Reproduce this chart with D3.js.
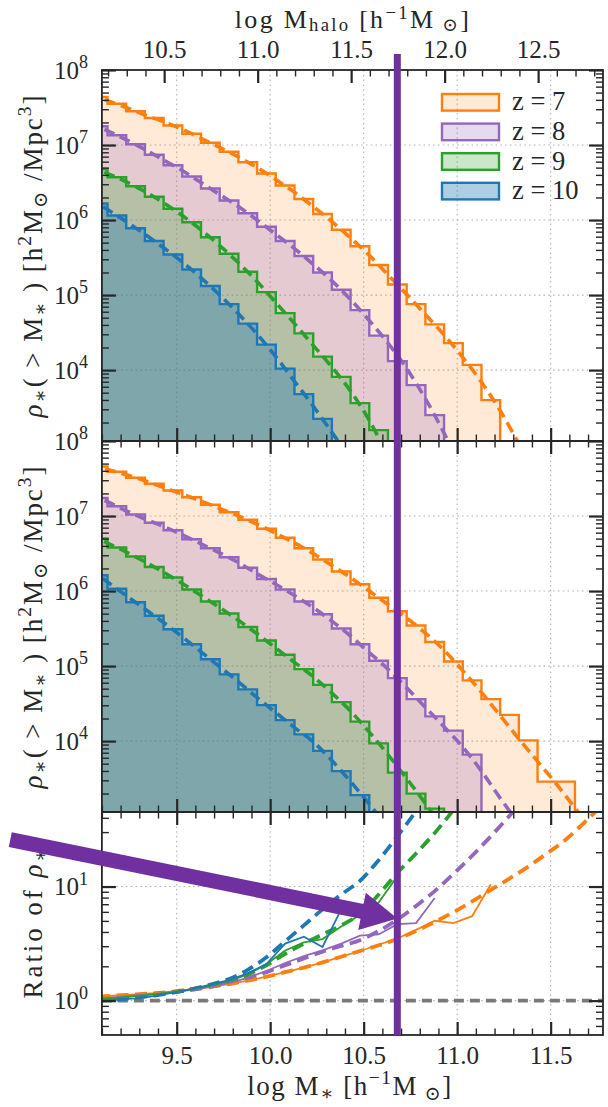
<!DOCTYPE html>
<html>
<head>
<meta charset="utf-8">
<script src="https://cdn.jsdelivr.net/npm/d3@7/dist/d3.min.js"></script>
<style>
  html, body { margin: 0; padding: 0; background: #fff; }
  svg text { font-family: "Liberation Serif", "DejaVu Serif", serif; fill: #262626; }
</style>
</head>
<body>
<svg id="chart" width="608" height="1107"></svg>
<script>
// ---------------- data ----------------
const redshiftLabels = ["z = 7", "z = 8", "z = 9", "z = 10"];

// bin centres in log M* (simulation steps and density ratios are given here)
const binCentres = [9.08, 9.18, 9.28, 9.38, 9.48, 9.58, 9.68, 9.78, 9.88, 9.98,
  10.08, 10.18, 10.28, 10.38, 10.48, 10.58, 10.68, 10.78, 10.88, 10.98,
  11.08, 11.18, 11.28, 11.38, 11.48, 11.58, 11.68, 11.78, 11.88];
// bin edges in log M* (model curves are given here)
const binEdges = [9.03, 9.13, 9.23, 9.33, 9.43, 9.53, 9.63, 9.73, 9.83, 9.93,
  10.03, 10.13, 10.23, 10.33, 10.43, 10.53, 10.63, 10.73, 10.83, 10.93,
  11.03, 11.13, 11.23, 11.33, 11.43, 11.53, 11.63, 11.73, 11.83];

// upper panel, log10 rho*(>M*): simulation (steps, at centres) and model (dashed, at edges)
const simUpperZ7 = [7.64, 7.55, 7.45, 7.36, 7.26, 7.15, 7.03, 6.91, 6.77, 6.62, 6.46, 6.28, 6.08, 5.87, 5.65, 5.40, 5.14, 4.88, 4.61, 4.36, 4.07, 3.60];
const fitUpperZ7 = [7.68, 7.59, 7.50, 7.40, 7.31, 7.21, 7.09, 6.97, 6.84, 6.70, 6.54, 6.37, 6.18, 5.98, 5.76, 5.53, 5.27, 5.01, 4.74, 4.47, 4.17, 3.84, 3.46, 3.02, 2.56];
const simUpperZ8 = [7.25, 7.13, 7.01, 6.87, 6.73, 6.58, 6.42, 6.26, 6.09, 5.91, 5.72, 5.52, 5.30, 5.07, 4.80, 4.46, 4.12, 3.80, 3.40];
const fitUpperZ8 = [7.30, 7.19, 7.07, 6.94, 6.80, 6.66, 6.50, 6.34, 6.18, 6.00, 5.81, 5.62, 5.41, 5.19, 4.94, 4.66, 4.36, 4.02, 3.62, 3.16, 2.65];
const simUpperZ9 = [6.68, 6.57, 6.45, 6.31, 6.15, 5.97, 5.77, 5.55, 5.31, 5.04, 4.76, 4.49, 4.18, 3.91, 3.56, 3.20];
const fitUpperZ9 = [6.73, 6.62, 6.51, 6.38, 6.23, 6.06, 5.87, 5.66, 5.43, 5.18, 4.90, 4.62, 4.33, 4.04, 3.72, 3.33, 2.85];
const simUpperZ10 = [6.22, 6.06, 5.89, 5.72, 5.54, 5.34, 5.12, 4.88, 4.62, 4.34, 4.02, 3.68, 3.35];
const fitUpperZ10 = [6.30, 6.14, 5.98, 5.81, 5.63, 5.44, 5.23, 5.00, 4.75, 4.48, 4.18, 3.85, 3.52, 3.17, 2.82];

// middle panel
const simMiddleZ7 = [7.66, 7.59, 7.51, 7.43, 7.34, 7.25, 7.15, 7.05, 6.95, 6.83, 6.71, 6.57, 6.42, 6.26, 6.09, 5.91, 5.73, 5.54, 5.32, 5.06, 4.81, 4.56, 4.35, 4.01, 3.46, 3.46];
const fitMiddleZ7 = [7.69, 7.62, 7.55, 7.47, 7.38, 7.29, 7.20, 7.10, 7.00, 6.89, 6.77, 6.64, 6.50, 6.34, 6.18, 6.00, 5.82, 5.64, 5.44, 5.21, 4.94, 4.65, 4.34, 4.03, 3.73, 3.43, 3.11, 2.80];
const simMiddleZ8 = [7.24, 7.13, 7.02, 6.91, 6.81, 6.69, 6.57, 6.45, 6.31, 6.16, 6.02, 5.86, 5.69, 5.50, 5.29, 5.07, 4.84, 4.56, 4.33, 4.14, 3.82];
const fitMiddleZ8 = [7.29, 7.19, 7.07, 6.96, 6.86, 6.75, 6.63, 6.51, 6.38, 6.23, 6.09, 5.94, 5.78, 5.60, 5.40, 5.18, 4.96, 4.71, 4.45, 4.19, 3.92, 3.60, 3.24, 2.90];
const simMiddleZ9 = [6.70, 6.58, 6.46, 6.32, 6.18, 6.02, 5.86, 5.70, 5.52, 5.34, 5.15, 4.96, 4.75, 4.52, 4.26, 3.97, 3.58, 3.30, 3.10];
const fitMiddleZ9 = [6.76, 6.64, 6.52, 6.39, 6.25, 6.10, 5.94, 5.78, 5.61, 5.43, 5.24, 5.05, 4.86, 4.64, 4.40, 4.12, 3.82, 3.50, 3.17, 2.82];
const simMiddleZ10 = [6.21, 6.03, 5.85, 5.67, 5.49, 5.29, 5.09, 4.89, 4.69, 4.48, 4.28, 4.09, 3.87, 3.60, 3.28];
const fitMiddleZ10 = [6.30, 6.12, 5.94, 5.76, 5.58, 5.39, 5.19, 4.99, 4.79, 4.58, 4.38, 4.18, 3.99, 3.74, 3.46, 3.16, 2.85];

// lower panel, log10 of the density ratio at bin centres
const ratioFitZ7 = [0.035, 0.045, 0.055, 0.065, 0.08, 0.10, 0.12, 0.145, 0.175, 0.21, 0.25, 0.29, 0.335, 0.385, 0.435, 0.485, 0.54, 0.61, 0.69, 0.775, 0.87, 0.97, 1.07, 1.175, 1.29, 1.41, 1.56, 1.72];
const ratioSimZ7 = [0.035, 0.045, 0.055, 0.065, 0.08, 0.10, 0.12, 0.145, 0.175, 0.21, 0.25, 0.29, 0.335, 0.385, 0.435, 0.49, 0.545, 0.62, 0.70, 0.68, 0.74, 1.02];
const ratioFitZ8 = [0.02, 0.03, 0.045, 0.06, 0.075, 0.095, 0.12, 0.155, 0.20, 0.25, 0.31, 0.37, 0.43, 0.48, 0.53, 0.61, 0.71, 0.83, 0.96, 1.11, 1.27, 1.44, 1.62, 1.80];
const ratioSimZ8 = [0.02, 0.03, 0.045, 0.06, 0.075, 0.095, 0.12, 0.155, 0.20, 0.26, 0.33, 0.39, 0.44, 0.50, 0.57, 0.58, 0.67, 0.68, 0.90];
const ratioFitZ9 = [0.01, 0.025, 0.04, 0.055, 0.075, 0.10, 0.13, 0.17, 0.23, 0.31, 0.41, 0.50, 0.58, 0.66, 0.76, 0.93, 1.12, 1.29, 1.47, 1.67];
const ratioSimZ9 = [0.01, 0.025, 0.04, 0.055, 0.075, 0.10, 0.13, 0.17, 0.23, 0.32, 0.44, 0.51, 0.54, 0.65, 0.75, 0.86, 1.09];
const ratioFitZ10 = [0.0, 0.01, 0.025, 0.045, 0.07, 0.10, 0.14, 0.19, 0.27, 0.38, 0.52, 0.66, 0.80, 0.93, 1.05, 1.23, 1.44, 1.66];
const ratioSimZ10 = [0.0, 0.01, 0.02, 0.04, 0.07, 0.10, 0.14, 0.18, 0.24, 0.32, 0.50, 0.56, 0.47, 0.80];

// axis ticks
const stellarTicks = [9.5, 10.0, 10.5, 11.0, 11.5];
const haloTicks = [10.5, 11.0, 11.5, 12.0, 12.5];
const densityTicks = [1e4, 1e5, 1e6, 1e7, 1e8];
const ratioTicks = [1, 10];

// highlighted mass and pointer
const markedLogM = 10.68;
const pointerTail = { logM: 8.61, ratio: 25.8 };
const pointerTip = { logM: 10.68, ratio: 5.25 };

// ---------------- styling ----------------
const colors = ["#ff7f0e", "#9467bd", "#2ca02c", "#1f77b4"];
const fillAlpha = [0.16, 0.24, 0.25, 0.36];
const ink = "#262626";
const accent = "#7030a0";
const FS = 25;      // tick labels
const TFS = 27;     // axis titles

// ---------------- layout & scales ----------------
const X0 = 101.9, X1 = 603;
const upper = [70, 441], middle = [441, 812], lower = [812, 1035];

const x = d3.scaleLinear().domain([9.1, 11.78]).range([X0, X1]);
const haloShift = 1.067;
const xHalo = d3.scaleLinear().domain([9.1 + haloShift, 11.78 + haloShift]).range([X0, X1]);
const yUpper = d3.scaleLog().domain([10 ** 3.055, 1e8]).range([upper[1], upper[0]]);
const yMiddle = d3.scaleLog().domain([10 ** 3.055, 1e8]).range([middle[1], middle[0]]);
const yRatio = d3.scaleLog().domain([0.5, 45]).range([lower[1], lower[0]]);

const svg = d3.select("#chart");
const defs = svg.append("defs");

// rich text: parts = [{t, sup, sub, it}]
function rich(sel, parts, size, supShift = 0.42, subShift = 0.2) {
  sel.text(null);
  let shift = 0;
  parts.forEach(p => {
    const target = p.sup ? -supShift * size : p.sub ? subShift * size : 0;
    const ts = sel.append("tspan").text(p.t)
      .attr("font-size", (p.sup || p.sub) ? size * 0.72 : size);
    if (target - shift !== 0) ts.attr("dy", target - shift);
    if (p.it) ts.attr("font-style", "italic");
    shift = target;
  });
  return sel;
}
// widen the letter spacing of a title so that it spans the given length
function stretchTo(sel, length) {
  const node = sel.node();
  const w = node.getComputedTextLength();
  const n = node.textContent.length;
  if (w < length && n > 1) sel.attr("letter-spacing", (length - w) / (n - 1));
}

function clipFor(id, band) {
  defs.append("clipPath").attr("id", id).append("rect")
    .attr("x", X0).attr("y", band[0]).attr("width", X1 - X0).attr("height", band[1] - band[0]);
  return `url(#${id})`;
}

function minorLogTicks(y) {
  const [lo, hi] = y.domain();
  const out = [];
  for (let e = Math.floor(Math.log10(lo)); e <= Math.ceil(Math.log10(hi)); e++) {
    for (let k = 2; k <= 9; k++) {
      const v = k * 10 ** e;
      if (v > lo && v < hi) out.push(v);
    }
  }
  return out;
}
function minorLinear(scale, step, majors) {
  const [lo, hi] = scale.domain();
  const out = [];
  for (let v = Math.ceil(lo / step - 1e-9) * step; v <= hi + 1e-9; v += step) {
    const r = +v.toFixed(3);
    if (!majors.some(t => Math.abs(t - r) < 1e-6)) out.push(r);
  }
  return out;
}

function styleAxis(g, major) {
  g.select(".domain").remove();
  g.attr("font-size", null).attr("font-family", null);
  g.selectAll(".tick line").attr("stroke", ink).attr("stroke-width", major ? 2.2 : 1.4);
  g.selectAll(".tick text").attr("font-size", FS);
}

function grid(band, y, yTicks) {
  const g = svg.append("g");
  g.selectAll("line.v").data(stellarTicks).join("line")
    .attr("x1", d => x(d)).attr("x2", d => x(d))
    .attr("y1", band[0]).attr("y2", band[1]);
  g.selectAll("line.h").data(yTicks.filter(t => y(t) > band[0] + 1 && y(t) < band[1] - 1)).join("line")
    .attr("x1", X0).attr("x2", X1).attr("y1", d => y(d)).attr("y2", d => y(d));
  g.selectAll("line").attr("stroke", "#b4b4b4").attr("stroke-width", 1.1).attr("stroke-dasharray", "1.6,3.2");
}

function frame(band, y, yMajor, opts) {
  const g = svg.append("g");
  const majorLen = 13, minorLen = 6.5;
  const b = g.append("g").attr("transform", `translate(0,${band[1]})`);
  b.call(d3.axisBottom(x).tickValues(stellarTicks).tickSizeInner(-majorLen).tickSizeOuter(0).tickPadding(11)
    .tickFormat(opts.xLabels ? d3.format(".1f") : ""));
  styleAxis(b, true);
  const bm = g.append("g").attr("transform", `translate(0,${band[1]})`);
  bm.call(d3.axisBottom(x).tickValues(minorLinear(x, 0.1, stellarTicks))
    .tickSizeInner(-minorLen).tickSizeOuter(0).tickFormat(""));
  styleAxis(bm, false);
  const topScale = opts.halo ? xHalo : x;
  const topMajor = opts.halo ? haloTicks : stellarTicks;
  const t = g.append("g").attr("transform", `translate(0,${band[0]})`);
  t.call(d3.axisTop(topScale).tickValues(topMajor).tickSizeInner(-majorLen).tickSizeOuter(0).tickPadding(12)
    .tickFormat(opts.halo ? d3.format(".1f") : ""));
  styleAxis(t, true);
  const tm = g.append("g").attr("transform", `translate(0,${band[0]})`);
  tm.call(d3.axisTop(topScale).tickValues(minorLinear(topScale, 0.1, topMajor))
    .tickSizeInner(-minorLen).tickSizeOuter(0).tickFormat(""));
  styleAxis(tm, false);
  const l = g.append("g").attr("transform", `translate(${X0},0)`);
  l.call(d3.axisLeft(y).tickValues(yMajor).tickSizeInner(-14).tickSizeOuter(0).tickPadding(14));
  styleAxis(l, true);
  l.selectAll(".tick text").each(function (d) {
    rich(d3.select(this), [{ t: "10" }, { t: String(Math.round(Math.log10(d))), sup: true }], FS);
  });
  const lm = g.append("g").attr("transform", `translate(${X0},0)`);
  lm.call(d3.axisLeft(y).tickValues(minorLogTicks(y)).tickSizeInner(-7).tickSizeOuter(0).tickFormat(""));
  styleAxis(lm, false);
  const r = g.append("g").attr("transform", `translate(${X1},0)`);
  r.call(d3.axisRight(y).tickValues(yMajor).tickSizeInner(-14).tickSizeOuter(0).tickFormat(""));
  styleAxis(r, true);
  const rm = g.append("g").attr("transform", `translate(${X1},0)`);
  rm.call(d3.axisRight(y).tickValues(minorLogTicks(y)).tickSizeInner(-7).tickSizeOuter(0).tickFormat(""));
  styleAxis(rm, false);
  g.append("rect").attr("x", X0).attr("y", band[0]).attr("width", X1 - X0).attr("height", band[1] - band[0])
    .attr("fill", "none").attr("stroke", ink).attr("stroke-width", 1.8);
}

function densityPanel(id, band, y, sims, fits) {
  grid(band, y, densityTicks);
  const plot = svg.append("g").attr("clip-path", clipFor(id, band));
  const floorValue = 1; // below the visible range: closes the last step
  sims.forEach((sim, i) => {
    const pts = sim.map((v, k) => [binCentres[k], 10 ** v]);
    pts.push([binCentres[sim.length], floorValue]);
    plot.append("path").datum(pts)
      .attr("d", d3.area().curve(d3.curveStep).x(d => x(d[0])).y0(band[1]).y1(d => y(d[1])))
      .attr("fill", colors[i]).attr("fill-opacity", fillAlpha[i]);
    plot.append("path").datum(pts)
      .attr("d", d3.line().curve(d3.curveStep).x(d => x(d[0])).y(d => y(d[1])))
      .attr("fill", "none").attr("stroke", colors[i]).attr("stroke-width", 2.4);
    const fp = fits[i].map((v, k) => [binEdges[k], 10 ** v]);
    plot.append("path").datum(fp)
      .attr("d", d3.line().curve(d3.curveMonotoneX).x(d => x(d[0])).y(d => y(d[1])))
      .attr("fill", "none").attr("stroke", colors[i]).attr("stroke-width", 3.6)
      .attr("stroke-dasharray", "11,6");
  });
}

// ---------------- panels ----------------
densityPanel("clip-upper", upper, yUpper,
  [simUpperZ7, simUpperZ8, simUpperZ9, simUpperZ10],
  [fitUpperZ7, fitUpperZ8, fitUpperZ9, fitUpperZ10]);
frame(upper, yUpper, densityTicks, { halo: true, xLabels: false });

densityPanel("clip-middle", middle, yMiddle,
  [simMiddleZ7, simMiddleZ8, simMiddleZ9, simMiddleZ10],
  [fitMiddleZ7, fitMiddleZ8, fitMiddleZ9, fitMiddleZ10]);
frame(middle, yMiddle, densityTicks, { halo: false, xLabels: false });

grid(lower, yRatio, ratioTicks);
const ratioPlot = svg.append("g").attr("clip-path", clipFor("clip-lower", lower));
ratioPlot.append("line")
  .attr("x1", X0).attr("x2", X1).attr("y1", yRatio(1)).attr("y2", yRatio(1))
  .attr("stroke", "#7a7a7a").attr("stroke-width", 3.6).attr("stroke-dasharray", "10,6");
const ratioFits = [ratioFitZ7, ratioFitZ8, ratioFitZ9, ratioFitZ10];
const ratioSims = [ratioSimZ7, ratioSimZ8, ratioSimZ9, ratioSimZ10];
ratioFits.forEach((arr, i) => {
  ratioPlot.append("path").datum(arr.map((v, k) => [binCentres[k], 10 ** v]))
    .attr("d", d3.line().curve(d3.curveMonotoneX).x(d => x(d[0])).y(d => yRatio(d[1])))
    .attr("fill", "none").attr("stroke", colors[i]).attr("stroke-width", 3.8)
    .attr("stroke-dasharray", "12,6.5");
});
ratioSims.forEach((arr, i) => {
  ratioPlot.append("path").datum(arr.map((v, k) => [binCentres[k], 10 ** v]))
    .attr("d", d3.line().x(d => x(d[0])).y(d => yRatio(d[1])))
    .attr("fill", "none").attr("stroke", colors[i]).attr("stroke-width", 1.8);
});
frame(lower, yRatio, ratioTicks, { halo: false, xLabels: true });

// ---------------- legend ----------------
const legend = svg.append("g");
redshiftLabels.forEach((lab, i) => {
  const cy = 102.3 + i * 29.6;
  legend.append("rect").attr("x", 442).attr("y", cy - 8.3).attr("width", 57).attr("height", 16.6)
    .attr("fill", colors[i]).attr("fill-opacity", fillAlpha[i])
    .attr("stroke", colors[i]).attr("stroke-width", 2.4);
  legend.append("text").attr("x", 512).attr("y", cy + 8).attr("font-size", 26.5).text(lab);
});

// ---------------- axis titles ----------------
const topTitle = rich(svg.append("text").attr("x", 353).attr("y", 28).attr("text-anchor", "middle"),
  [{ t: "log M" }, { t: "halo", sub: true }, { t: " [h" }, { t: "−1", sup: true }, { t: "M" }, { t: " ⊙", sub: true }, { t: "]" }],
  26, 0.36, 0.12);
stretchTo(topTitle, 234);
const bottomTitle = rich(svg.append("text").attr("x", 350).attr("y", 1095).attr("text-anchor", "middle"),
  [{ t: "log M" }, { t: "∗", sub: true }, { t: " [h" }, { t: "−1", sup: true }, { t: "M" }, { t: " ⊙", sub: true }, { t: "]" }], TFS);
stretchTo(bottomTitle, 204);
const densityTitle = [{ t: "ρ", it: true }, { t: "∗", sub: true }, { t: "( > M" }, { t: "∗", sub: true },
  { t: " ) [h" }, { t: "2", sup: true }, { t: "M" }, { t: "⊙", sub: true }, { t: " /Mpc" }, { t: "3", sup: true }, { t: "]" }];
[(upper[0] + upper[1]) / 2, (middle[0] + middle[1]) / 2].forEach(cy => {
  const t = rich(svg.append("text").attr("text-anchor", "middle")
    .attr("transform", `translate(42,${cy}) rotate(-90)`), densityTitle, TFS);
  stretchTo(t, 322);
});
const ratioTitle = rich(svg.append("text").attr("text-anchor", "middle")
  .attr("transform", `translate(42,922) rotate(-90)`),
  [{ t: "Ratio of " }, { t: "ρ", it: true }, { t: "∗", sub: true }], TFS);
stretchTo(ratioTitle, 150);

// ---------------- highlight: vertical marker and pointer ----------------
svg.append("line")
  .attr("x1", x(markedLogM)).attr("x2", x(markedLogM))
  .attr("y1", 54).attr("y2", lower[1])
  .attr("stroke", accent).attr("stroke-width", 7);

(function pointer() {
  const tx = x(pointerTail.logM), ty = yRatio(pointerTail.ratio);
  const hx = x(pointerTip.logM), hy = yRatio(pointerTip.ratio);
  const len = Math.hypot(hx - tx, hy - ty);
  const ux = (hx - tx) / len, uy = (hy - ty) / len;
  const nx = -uy, ny = ux;
  const shaftHalf = 7.5, headHalf = 19, headLen = 36;
  const bx = hx - ux * headLen, by = hy - uy * headLen;
  const pts = [
    [tx + nx * shaftHalf, ty + ny * shaftHalf],
    [bx + nx * shaftHalf, by + ny * shaftHalf],
    [bx + nx * headHalf, by + ny * headHalf],
    [hx, hy],
    [bx - nx * headHalf, by - ny * headHalf],
    [bx - nx * shaftHalf, by - ny * shaftHalf],
    [tx - nx * shaftHalf, ty - ny * shaftHalf]
  ];
  svg.append("polygon").attr("points", pts.map(p => p.join(",")).join(" ")).attr("fill", accent);
})();
</script>
</body>
</html>
